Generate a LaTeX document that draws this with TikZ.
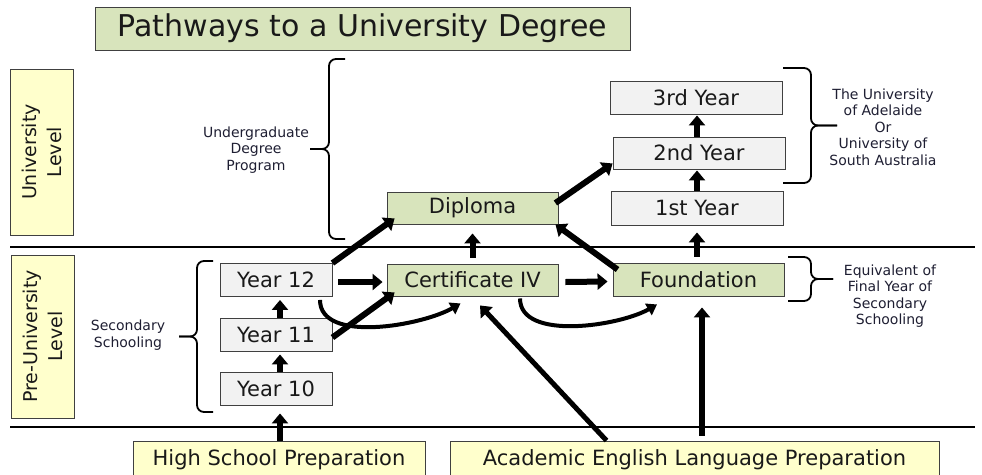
\documentclass[tikz,border=0pt]{standalone}
\usepackage{fontspec}
\setmainfont{DejaVu Sans}
\usetikzlibrary{arrows.meta}

\definecolor{boxgreen}{RGB}{216,228,188}
\definecolor{boxyellow}{RGB}{255,255,204}
\definecolor{boxgray}{RGB}{242,242,242}
\definecolor{boxline}{RGB}{64,64,64}
\definecolor{notetext}{RGB}{30,30,50}

\tikzset{
  box/.style={draw=boxline, line width=0.9pt, inner sep=0pt, text=black!90,
    font=\fontsize{21}{25}\selectfont},
  greenbox/.style={box, fill=boxgreen, minimum width=171pt, minimum height=32pt},
  graybox/.style={box, fill=boxgray, minimum width=172pt, minimum height=33pt},
  yearbox/.style={box, fill=boxgray, minimum width=112pt, minimum height=33pt},
  prepbox/.style={box, fill=boxyellow, minimum height=38pt},
  levelbox/.style={box, fill=boxyellow, rotate=90, align=center,
    minimum height=63pt, font=\fontsize{19}{25}\selectfont},
  note/.style={align=center, text=notetext, font=\fontsize{14}{16.5}\selectfont},
  flow/.style={line width=6pt, -{Triangle[length=10pt,width=16pt]}},
  swoop/.style={line width=4pt, -{Triangle[length=10pt,width=13pt]}},
  brak/.style={line width=1.8pt, rounded corners=7pt},
}

% curly bracket: end x, spine x, tip x, top y, bottom y
\newcommand{\drawbrace}[5]{%
  \draw[brak] (#1,#4) -- (#2,#4) -- (#2,{(#4+#5)/2}) -- (#3,{(#4+#5)/2});
  \draw[brak] (#1,#5) -- (#2,#5) -- (#2,{(#4+#5)/2}) -- (#3,{(#4+#5)/2});
}

\begin{document}
\begin{tikzpicture}[x=1pt,y=-1pt]
  \useasboundingbox (0,0) rectangle (982,474);
  \clip (0,0) rectangle (982,474);

  % draw the title
  \node[box, fill=boxgreen, minimum width=535pt, minimum height=43pt,
        font=\fontsize{30}{36}\selectfont] (title) at (362.5,28.5)
        {Pathways to a University Degree};

  % draw the level labels
  \node[levelbox, minimum width=166pt] (uni) at (41.5,152) {University\\Level};
  \node[levelbox, minimum width=163pt] (preuni) at (42.5,336.5) {Pre-University\\Level};

  % draw the separating lines
  \draw[line width=2pt] (10,247) -- (975,247);
  \draw[line width=2pt] (10,427) -- (975,427);

  % university level
  \node[greenbox] (dip) at (472.5,208) {Diploma};
  \node[graybox] (y3) at (696,97.5) {3rd Year};
  \node[graybox, minimum height=32pt] (y2) at (699,153) {2nd Year};
  \node[graybox, minimum height=34pt] (y1) at (697,208) {1st Year};

  % pre-university level
  \foreach \n/\y in {10/388.5, 11/334.5, 12/280}
    \node[yearbox] (y\n) at (276,\y) {Year \n};
  \node[greenbox] (cert) at (472.5,280) {Certificate IV};
  \node[greenbox, minimum height=33pt] (found) at (698.5,279.5) {Foundation};

  % preparation courses
  \node[prepbox, minimum width=292pt] (hsp) at (279,460) {High School Preparation};
  \node[prepbox, minimum width=489pt] (aelp) at (694.5,460) {Academic English Language Preparation};

  % draw the braces and their notes
  \drawbrace{345}{329}{310}{59}{239}
  \node[note] (ugd) at (256,150) {Undergraduate\\Degree\\Program};
  \drawbrace{783}{811}{837}{68}{183}
  \node[note] (unis) at (883,127) {The University\\of Adelaide\\Or\\University of\\South Australia};
  \drawbrace{213}{197}{179}{261}{412}
  \node[note] (sec) at (128,335) {Secondary\\Schooling};
  \drawbrace{788}{811}{833}{257}{301}
  \node[note] (equiv) at (890,296) {Equivalent of\\Final Year of\\Secondary\\Schooling};

  % draw the arrows between the years
  \draw[flow] ([xshift=1pt]hsp.north) -- ([xshift=4pt,yshift=-8pt]y10.south);
  \foreach \a/\b in {y10/y11, y11/y12}
    \draw[flow] ([xshift=4pt]\a.north) -- ([xshift=4pt,yshift=-3pt]\b.south);
  \draw[flow] (y1.north) -- ([xshift=-2pt,yshift=-1pt]y2.south);
  \draw[flow] ([xshift=-2pt]y2.north) -- ([xshift=1pt,yshift=-1pt]y3.south);

  % draw the pathways
  \draw[flow] ([xshift=6pt,yshift=-2pt]y12.east) -- ([xshift=-4pt,yshift=-2pt]cert.west);
  \draw[flow] (y12.north east) -- ([xshift=8pt,yshift=6pt]dip.south west);
  \draw[flow] ([yshift=-3pt]y11.east) -- ([xshift=8pt,yshift=4pt]cert.south west);
  \draw[flow] ([yshift=6pt]cert.north) -- ([yshift=-9pt]dip.south);
  \draw[flow] ([xshift=7pt,yshift=-2pt]cert.east) -- ([xshift=-5pt,yshift=-2pt]found.west);
  \draw[flow] ([xshift=5pt,yshift=-7pt]found.north west) -- ([xshift=-3pt]dip.south east);
  \draw[flow] ([xshift=-3pt,yshift=5pt]dip.east) -- ([yshift=6pt]y2.south west);
  \draw[flow] ([xshift=-1.5pt,yshift=6pt]found.north) -- ([yshift=-7pt]y1.south);
  \draw[swoop] ([xshift=44pt,yshift=-3pt]y12.south)
    to[out=-90,in=-150,looseness=0.8] ([xshift=-12pt,yshift=-7pt]cert.south);
  \draw[swoop] ([xshift=47.5pt,yshift=-2pt]cert.south)
    to[out=-90,in=-150,looseness=0.8] ([xshift=-41.5pt,yshift=-8pt]found.south);
  \draw[flow, line width=5pt] ([xshift=-88pt]aelp.north) -- ([xshift=7.5pt,yshift=-9pt]cert.south);
  \draw[flow] ([xshift=7.5pt,yshift=5pt]aelp.north) -- ([xshift=3.5pt,yshift=-11pt]found.south);
\end{tikzpicture}
\end{document}
